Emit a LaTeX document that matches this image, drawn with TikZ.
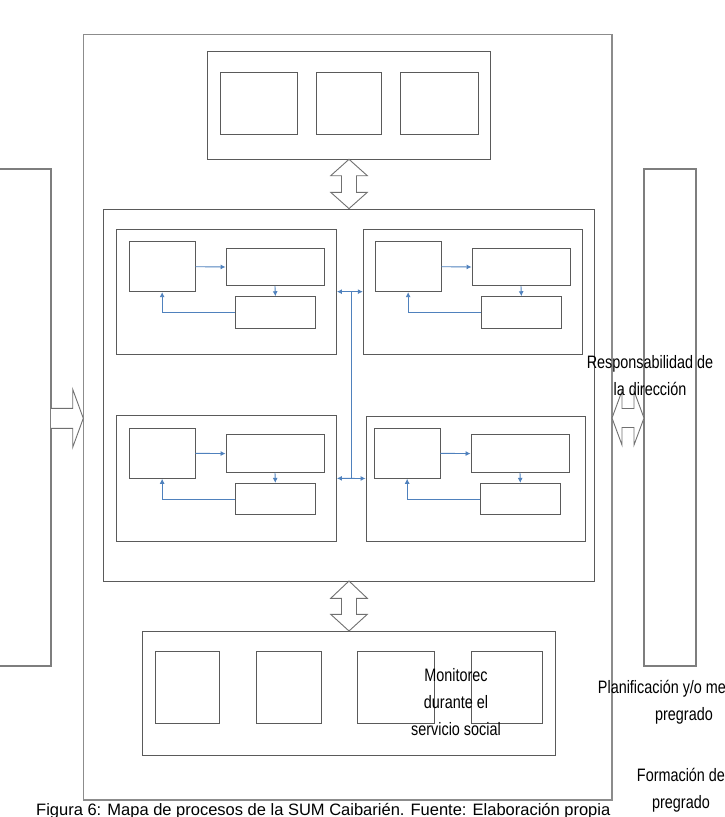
\documentclass[tikz,border=0pt]{standalone}
\usepackage{fontspec}
\setmainfont{Liberation Sans}
\newfontfamily\narrowsans[FakeStretch=0.8]{Liberation Sans}
\usetikzlibrary{fit,arrows.meta,calc}
\definecolor{lineblue}{HTML}{4F81BD}
\definecolor{boxgray}{HTML}{5A5A5A}
\definecolor{framegray}{HTML}{8C8C8C}
\begin{document}
\begin{tikzpicture}[x=1pt,y=-1pt,
  frame/.style={draw=framegray, line width=1.4pt, inner sep=0pt, minimum size=0pt},
  side/.style={draw=framegray!90!black, line width=1.1pt, inner sep=0pt, minimum size=0pt},
  box/.style={draw=boxgray, line width=0.9pt, inner sep=0pt, minimum size=0pt},
  blockarrow/.style={draw=framegray!80!black, line width=0.9pt, fill=white, line join=miter},
  flow/.style={draw=lineblue, line width=0.9pt, -{Latex[length=5pt,width=5pt]}},
  flowboth/.style={draw=lineblue, line width=0.9pt, {Latex[length=5pt,width=5pt]}-{Latex[length=5pt,width=5pt]}},
  lbl/.style={font=\narrowsans\fontsize{18}{27}\selectfont, align=center, inner sep=0pt},
  captionstyle/.style={font=\fontsize{16.5}{20}\selectfont, inner sep=0pt}]
\useasboundingbox (0,0) rectangle (724,817);
\clip (0,0) rectangle (724,817);

% outer frame and side boxes
\node[frame, fit={(83.3,34.7) (612,800)}] (outer) {};
\node[side, fit={(-5,169) (51,666)}] (leftbox) {};
\node[side, fit={(644,169) (696,666)}] (rightbox) {};

% top box
\node[box, fit={(207.3,51.7) (490.7,159.3)}] (top) {};
\node[box, fit={(220,72.3) (297.3,134.3)}] (t1) {};
\node[box, fit={(316.3,72.3) (381.7,134.3)}] (t2) {};
\node[box, fit={(400.3,72.3) (478,134.3)}] (t3) {};

% middle box
\node[box, fit={(103.5,209) (594,581)}] (mid) {};
\node[box, fit={(116.7,229.3) (336.5,354)}] (qTL) {};
\node[box, fit={(363.3,229.3) (582.7,354)}] (qTR) {};
\node[box, fit={(116.7,415.7) (336.5,541)}] (qBL) {};
\node[box, fit={(366,416) (585,541)}] (qBR) {};

\foreach \q/\dx/\dy in {TL/0/0, TR/246/0, BL/0/186.6, BR/245/186.6}{
  \node[box, fit={(129.3+\dx,241.7+\dy) (195+\dx,291.7+\dy)}] (a\q) {};
  \node[box, fit={(226+\dx,248.3+\dy) (324+\dx,285.7+\dy)}] (b\q) {};
  \node[box, fit={(235+\dx,296.7+\dy) (315.7+\dx,328.3+\dy)}] (c\q) {};
  \draw[flow] (a\q.east) -- (b\q.west);
  \draw[flow] (b\q.south) -- (c\q.north);
  \draw[flow] (c\q.west) -| (a\q.south);
}

% central blue connector
\coordinate (j1) at (351,291.7);
\coordinate (j2) at (351,478);
\draw[draw=lineblue, line width=0.9pt] (j1) -- (j2);
\draw[flowboth] (qTL.east) -- (qTR.west);
\draw[flowboth] (qBL.east) -- (qBR.west);

% bottom box
\node[box, fit={(142.5,631) (555,755)}] (bot) {};
\node[box, fit={(155.6,651.7) (219.8,723.3)}] (u1) {};
\node[box, fit={(256.5,651.7) (321,723.3)}] (u2) {};
\node[box, fit={(357,651.7) (434,723.3)}] (u3) {};
\node[box, fit={(471,651.7) (542.5,723.3)}] (u4) {};

% block arrows
\draw[blockarrow] (349,159.3) -- (367.3,175.7) -- (356.5,175.7) -- (356.5,192.3) -- (367.3,192.3)
  -- (349,208.6) -- (330.7,192.3) -- (341.5,192.3) -- (341.5,175.7) -- (330.7,175.7) -- cycle;
\draw[blockarrow] (349,581) -- (367.3,598.3) -- (356.5,598.3) -- (356.5,614.3) -- (367.3,614.3)
  -- (349,631) -- (330.7,614.3) -- (341.5,614.3) -- (341.5,598.3) -- (330.7,598.3) -- cycle;
\draw[blockarrow] (51,408.3) -- (72.7,408.3) -- (72.7,389.3) -- (83.3,418.3) -- (72.7,447.3)
  -- (72.7,428.3) -- (51,428.3);
\draw[blockarrow] (612,418) -- (622,391) -- (622,408.5) -- (634,408.5) -- (634,391) -- (644,418)
  -- (634,445) -- (634,427.5) -- (622,427.5) -- (622,445) -- cycle;

% texts
\node[lbl, anchor=north] (resp) at (650,355) {Responsabilidad de\\la dirección};
\node[lbl, anchor=north] (mon) at (456,668) {Monitorec\\durante el\\servicio social};
\node[lbl, anchor=north] (plan) at (684,680) {Planificación y/o mejora de\\pregrado};
\node[lbl, anchor=north] (form) at (681,768.5) {Formación de\\pregrado};
\node[captionstyle, anchor=base west] (cap) at (36,815) {Figura 6: Mapa de procesos de la SUM Caibarién. Fuente: Elaboración propia};
\end{tikzpicture}
\end{document}
